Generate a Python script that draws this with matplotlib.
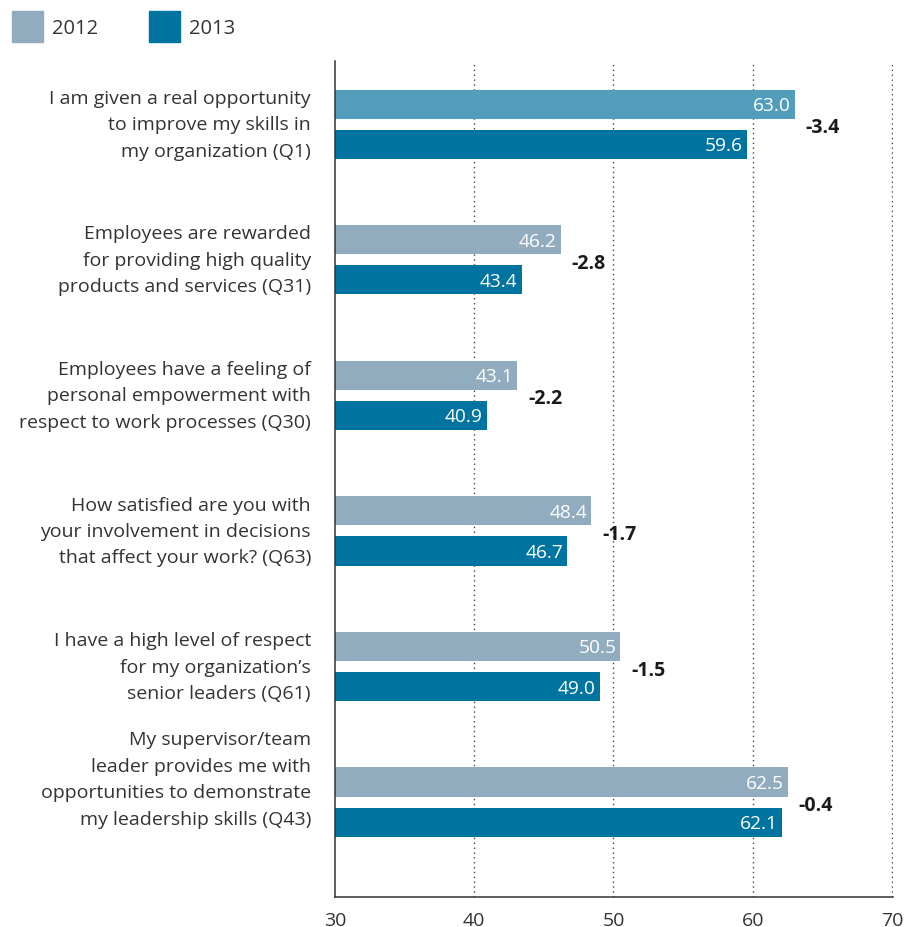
import matplotlib.pyplot as plt
import matplotlib.patches as mpatches
import numpy as np

plt.rcParams['font.family'] = ['Open Sans', 'DejaVu Sans']

questions = [
    "I am given a real opportunity\nto improve my skills in\nmy organization (Q1)",
    "Employees are rewarded\nfor providing high quality\nproducts and services (Q31)",
    "Employees have a feeling of\npersonal empowerment with\nrespect to work processes (Q30)",
    "How satisfied are you with\nyour involvement in decisions\nthat affect your work? (Q63)",
    "I have a high level of respect\nfor my organization\u2019s\nsenior leaders (Q61)",
    "My supervisor/team\nleader provides me with\nopportunities to demonstrate\nmy leadership skills (Q43)",
]
vals_2012 = [63.0, 46.2, 43.1, 48.4, 50.5, 62.5]
vals_2013 = [59.6, 43.4, 40.9, 46.7, 49.0, 62.1]
diffs = ["-3.4", "-2.8", "-2.2", "-1.7", "-1.5", "-0.4"]
xticks = [30, 40, 50, 60, 70]

c2012 = '#91abbf'
c2012_first = '#529dbc'
c2013 = '#0074a0'
txt = '#333333'

fig = plt.figure(figsize=(9.10, 9.28), dpi=100)
ax = fig.add_axes([0.368, 0.0323, 0.613, 0.9007])

y = np.arange(len(questions))
h = 0.215
off = 0.148
cols12 = [c2012_first] + [c2012] * (len(vals_2012) - 1)
base = 30
ax.barh(y - off, np.array(vals_2012) - base, left=base, height=h, color=cols12)
ax.barh(y + off, np.array(vals_2013) - base, left=base, height=h, color=c2013)

for i in range(len(questions)):
    ax.annotate(f"{vals_2012[i]:.1f}", (vals_2012[i], y[i] - off), xytext=(-4, -1),
                textcoords='offset pixels', ha='right', va='center',
                color='white', fontsize=13.8)
    ax.annotate(f"{vals_2013[i]:.1f}", (vals_2013[i], y[i] + off), xytext=(-4, -1),
                textcoords='offset pixels', ha='right', va='center',
                color='white', fontsize=13.8)
    ax.annotate(diffs[i], (vals_2012[i], y[i]), xytext=(11, -3),
                textcoords='offset pixels', ha='left', va='center',
                color='#1a1a1a', fontsize=14, fontweight='bold')
    ly = y[i] - (0.17 if i == 5 else 0)
    ax.annotate(questions[i], (base, ly), xytext=(-24, 0), textcoords='offset pixels',
                ha='right', va='center', color=txt, fontsize=14, linespacing=1.6,
                annotation_clip=False)

ax.set_xlim(30, 70.05)
ax.set_ylim(5.70, -0.465)
ax.set_xticks(xticks)
ax.set_yticks([])
ax.tick_params(axis='x', length=0, pad=10, labelsize=14, labelcolor=txt)
for v in xticks[1:]:
    ax.axvline(v, color='#444444', linestyle=(0, (1, 2.5)), linewidth=1, zorder=0)
for s in ['top', 'right']:
    ax.spines[s].set_visible(False)
for s in ['left', 'bottom']:
    ax.spines[s].set_color('#333333')
    ax.spines[s].set_linewidth(1.1)

handles = [mpatches.Patch(color=c2012, label='2012'),
           mpatches.Patch(color=c2013, label='2013')]
fig.legend(handles=handles, loc='upper left', bbox_to_anchor=(0.0, 1.0), ncol=2,
           frameon=False, fontsize=14.5, handlelength=1.54, handleheight=1.99,
           handletextpad=0.45, columnspacing=2.5, borderaxespad=0.2,
           labelcolor=txt)

fig.savefig('out.png', dpi=100)
